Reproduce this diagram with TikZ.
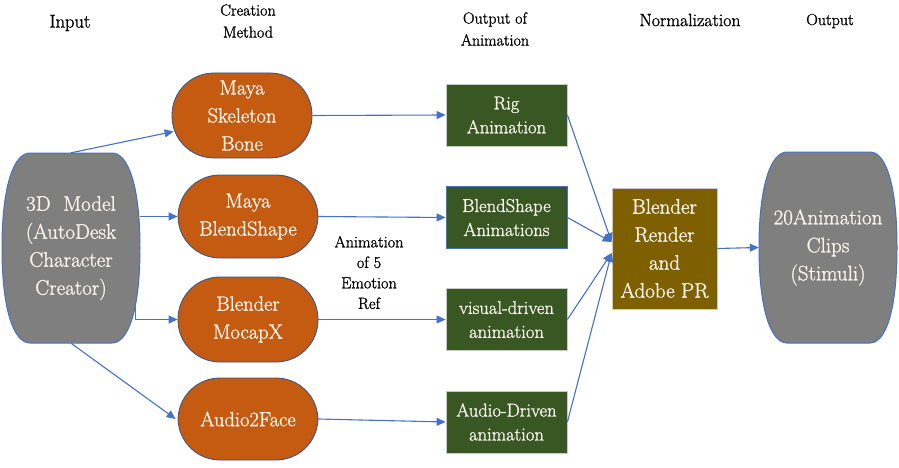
\documentclass[tikz,border=0pt]{standalone}
\usepackage{fontspec}
\newfontfamily\tnr[FakeBold=1.3]{Latin Modern Roman}
\usetikzlibrary{arrows.meta,calc}
\definecolor{cgray}{HTML}{7F7F7F}
\definecolor{corange}{HTML}{C55A11}
\definecolor{cgreen}{HTML}{385723}
\definecolor{cbrown}{HTML}{7F6000}
\definecolor{cblue}{HTML}{4472C4}
\definecolor{cdblue}{HTML}{2F528F}
\definecolor{cedge}{HTML}{C9C9C9}
\definecolor{ctext}{HTML}{F7F3EC}
\tikzset{
  arr/.style={draw=cblue, line width=1.1pt, -{Triangle[length=9pt,width=8pt]}},
  barrelfill/.style={fill=cgray, draw=cblue, line width=1pt},
  barreltext/.style={text=ctext, align=center, inner sep=0pt, font={\tnr\fontsize{21}{28}\selectfont}},
  orangebox/.style={fill=corange, draw=cdblue, line width=0.8pt, rounded corners=42pt,
     minimum width=140pt, minimum height=85pt, inner sep=0pt, align=center, text=ctext,
     font={\tnr\fontsize{20.5}{28}\selectfont}},
  greenbox/.style={fill=cgreen, draw=cedge, line width=0.8pt, minimum width=121pt,
     minimum height=62pt, inner sep=0pt, align=center, text=ctext,
     font={\tnr\fontsize{18.6}{24}\selectfont}},
  brownbox/.style={fill=cbrown, draw=cedge, line width=0.8pt, minimum width=105pt,
     minimum height=121pt, inner sep=0pt, align=center, text=ctext,
     font={\tnr\fontsize{21}{28}\selectfont}},
  header/.style={align=center, inner sep=0pt, text=black, font={\tnr\fontsize{16}{22}\selectfont}},
  lbl/.style={align=center, inner sep=0pt, text=black, font={\tnr\fontsize{16.2}{20.5}\selectfont}}
}
\begin{document}
\begin{tikzpicture}[x=1pt,y=-1pt]
\useasboundingbox (0,0) rectangle (899,468);

% headers
\node[header, font={\tnr\fontsize{18.5}{22}\selectfont}] (hin) at (70,23) {Input};
\node[header] (hcm) at (248,21) {Creation\\Method};
\node[header] (hoa) at (495,29) {Output of\\Animation};
\node[header, font={\tnr\fontsize{17.8}{22}\selectfont}] (hno) at (690,20) {Normalization};
\node[header] (hou) at (830,21) {Output};

% left barrel
\path[barrelfill] (30,153) -- (112,153) .. controls (128,153) and (140,185) .. (140,248)
  .. controls (140,311) and (128,343) .. (112,343) -- (30,343)
  .. controls (14,343) and (2,311) .. (2,248) .. controls (2,185) and (14,153) .. (30,153) -- cycle;
\node[barreltext, minimum width=138pt, minimum height=190pt] (model) at (71,248)
  {3D\ \ Model\\(AutoDesk\\Character\\Creator)};

% right barrel
\path[barrelfill] (787,152) -- (870,152) .. controls (886,152) and (897,185) .. (897,247.5)
  .. controls (897,310) and (886,343) .. (870,343) -- (787,343)
  .. controls (771,343) and (759,310) .. (759,247.5) .. controls (759,185) and (771,152) .. (787,152) -- cycle;
\node[barreltext, minimum width=138pt, minimum height=191pt] (clips) at (828,247.5)
  {20Animation\\Clips\\(Stimuli)};

% creation methods
\node[orangebox] (skel) at (242,115.5) {Maya\\Skeleton\\Bone};
\node[orangebox, minimum height=83pt] (blend) at (248,216.5) {Maya\\BlendShape};
\node[orangebox] (mocap) at (248,319.5) {Blender\\MocapX};
\node[orangebox, minimum height=82pt] (a2f) at (248,419) {Audio2Face};

% outputs of animation
\node[greenbox] (rig) at (506.5,115) {Rig\\Animation};
\node[greenbox, draw=cblue] (blendA) at (506.5,217.5) {BlendShape\\Animations};
\node[greenbox] (vis) at (506.5,319.5) {visual-driven\\animation};
\node[greenbox] (audA) at (506.5,422) {Audio-Driven\\animation};

% normalization
\node[brownbox] (norm) at (664.5,248.5) {Blender\\Render\\and\\Adobe PR};

% label
\node[lbl] (emo) at (369,272.5) {Animation\\of 5\\Emotion\\Ref};

% connectors
\draw[arr] (model.north) -- ([shift={(2pt,-16pt)}]skel.west);
\draw[arr] (model.east |- blend.west) -- (blend.west);
\draw[arr] ([shift={(-5pt,-59pt)}]model.east) |- (mocap.west);
\draw[arr] (model.south) -- ([xshift=-2pt]a2f.west);

\draw[arr] (skel.east) -- (rig.west);
\draw[arr] (blend.east) -- (blendA.west);
\draw[arr] (mocap.east) -- (vis.west);
\draw[arr] (a2f.east) -- (audA.west);

\coordinate (in1) at ([yshift=6.5pt]norm.west);
\coordinate (in2) at ([yshift=-4.5pt]norm.west);
\draw[arr] (rig.east) -- (in1);
\draw[arr] (blendA.east) -- (in1);
\draw[arr] (vis.east) -- (in2);
\draw[arr] (audA.east) -- (in2);

\draw[arr] (norm.east) -- (clips.west);
\end{tikzpicture}
\end{document}
